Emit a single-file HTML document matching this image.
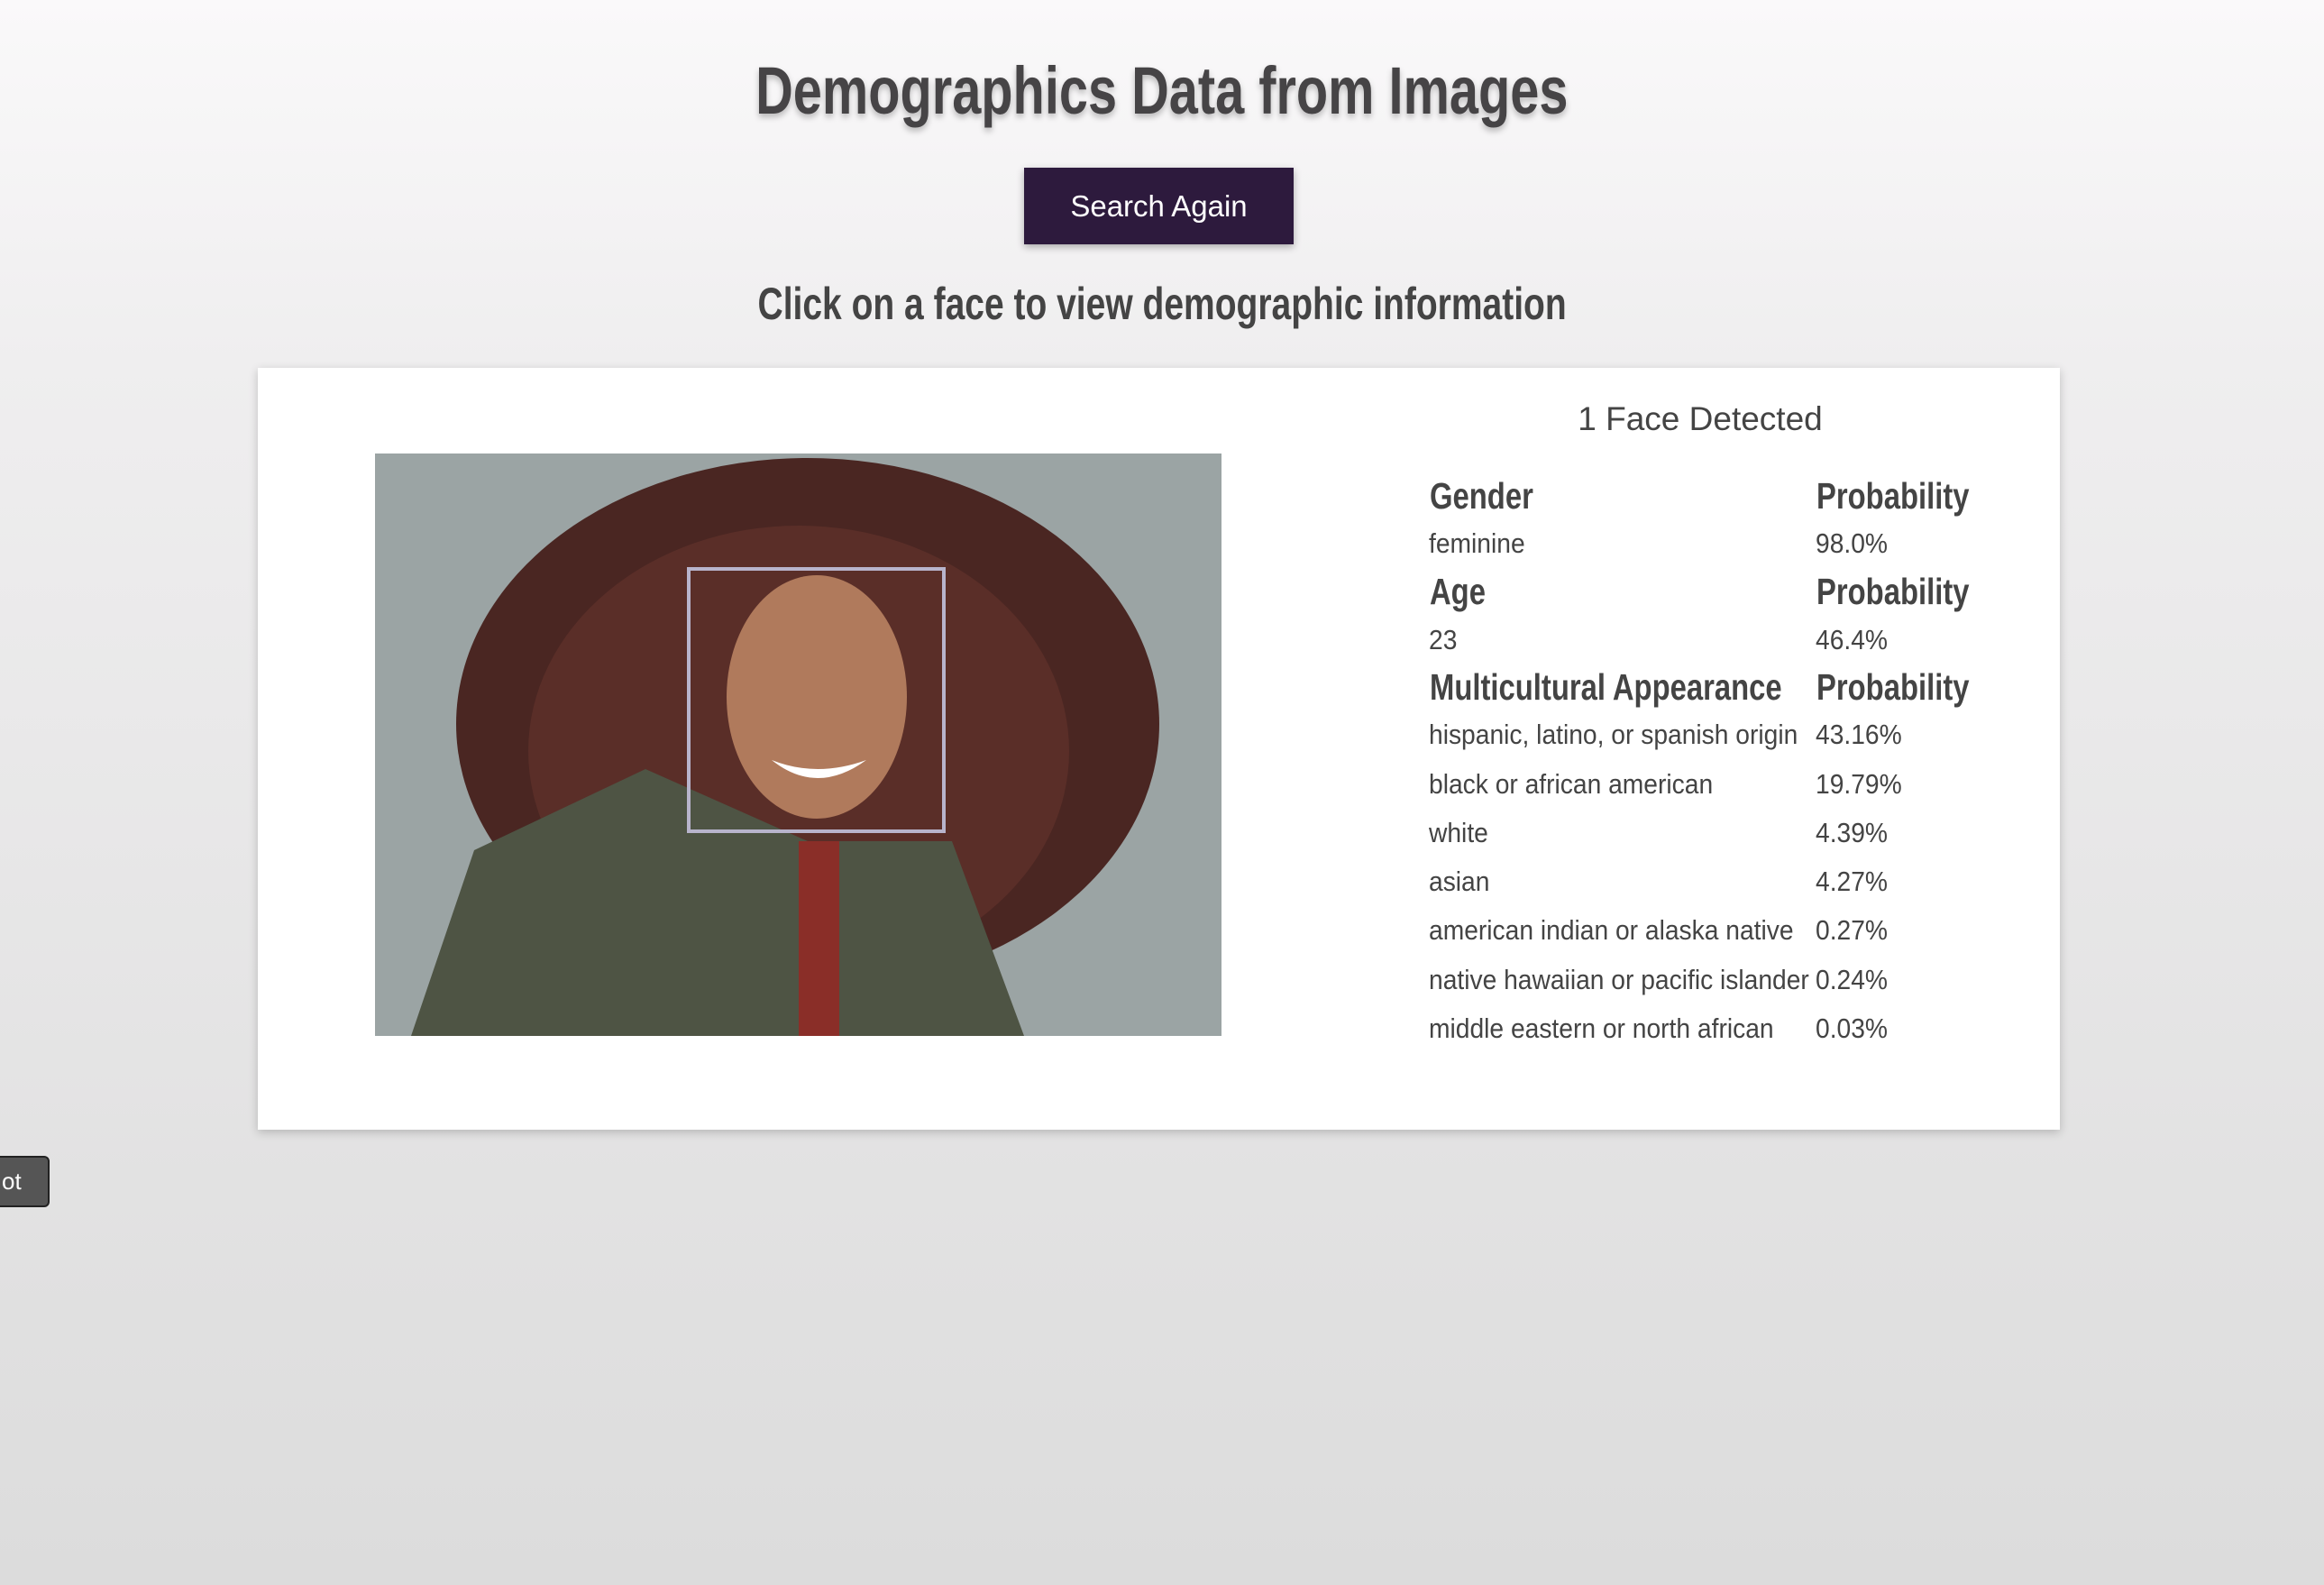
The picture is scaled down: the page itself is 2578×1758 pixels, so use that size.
<!DOCTYPE html>
<html><head><meta charset="utf-8"><style>
html,body{margin:0;padding:0}
body{width:2578px;height:1758px;position:relative;overflow:hidden;background:linear-gradient(#faf9fa,#efeeef 400px,#dcdcdc 1758px);font-family:"Liberation Sans",sans-serif;color:#444}
.abs{position:absolute}
h1{position:absolute;left:0;width:2578px;top:58px;margin:0;text-align:center;font-size:74px;font-weight:bold;color:#464446;text-shadow:0 4px 8px rgba(0,0,0,.25)}
h1 span,h2 span{display:inline-block;transform:scaleX(0.78);transform-origin:center}
#btn{left:1136px;top:186px;width:299px;height:85px;background:#2d1a3d;color:#fff;font-size:33px;line-height:85px;text-align:center;box-shadow:0 3px 8px rgba(0,0,0,.3)}
h2{position:absolute;left:0;width:2578px;top:308px;margin:0;text-align:center;font-size:50px;font-weight:bold;color:#444}
#card{left:286px;top:408px;width:1999px;height:845px;background:#fff;box-shadow:0 3px 10px rgba(0,0,0,.2)}
#photo{left:416px;top:503px;width:939px;height:646px;overflow:hidden;background:#98a1a1}
.t{position:absolute;white-space:nowrap;transform-origin:left top}
.hd{font-size:41px;font-weight:bold;color:#444;transform:scaleX(0.8)}
.rw{font-size:31px;color:#444;transform:scaleX(0.91)}
#ot{left:-20px;top:1282px;width:71px;height:53px;background:#555;border:2px solid #222;border-radius:6px;color:#fff;font-size:26px;line-height:53px;text-indent:20px}
</style></head><body>
<h1><span>Demographics Data from Images</span></h1>
<div id="btn" class="abs">Search Again</div>
<h2><span>Click on a face to view demographic information</span></h2>
<div id="card" class="abs"></div>
<div id="photo" class="abs">
<svg width="939" height="646" viewBox="0 0 939 646">
<rect width="939" height="646" fill="#9ba4a4"/>
<ellipse cx="480" cy="300" rx="390" ry="295" fill="#4a2622"/>
<ellipse cx="470" cy="330" rx="300" ry="250" fill="#5a2e28"/>
<path d="M40 646 L110 440 L300 350 L480 430 L640 430 L720 646 Z" fill="#4e5444"/>
<rect x="470" y="430" width="45" height="216" fill="#8a2e28"/>
<ellipse cx="490" cy="270" rx="100" ry="135" fill="#b07a5c"/>
<path d="M440 340 Q490 380 545 340 Q490 360 440 340Z" fill="#fff"/>
</svg>
<div class="abs" style="left:346px;top:126px;width:279px;height:287px;border:4px solid #b8b4cc"></div>
</div>
<div class="t" style="left:1686px;top:444px;width:400px;text-align:center;font-size:37px;color:#444">1 Face Detected</div>
<div>
<div class="t hd" style="left:1586px;top:527px">Gender</div><div class="t hd" style="left:2015px;top:527px">Probability</div>
<div class="t rw" style="left:1585px;top:585px">feminine</div><div class="t rw" style="left:2014px;top:585px">98.0%</div>
<div class="t hd" style="left:1586px;top:633px">Age</div><div class="t hd" style="left:2015px;top:633px">Probability</div>
<div class="t rw" style="left:1585px;top:692px">23</div><div class="t rw" style="left:2014px;top:692px">46.4%</div>
<div class="t hd" style="left:1586px;top:739px">Multicultural Appearance</div><div class="t hd" style="left:2015px;top:739px">Probability</div>
<div class="t rw" style="left:1585px;top:797px">hispanic, latino, or spanish origin</div><div class="t rw" style="left:2014px;top:797px">43.16%</div>
<div class="t rw" style="left:1585px;top:852px">black or african american</div><div class="t rw" style="left:2014px;top:852px">19.79%</div>
<div class="t rw" style="left:1585px;top:906px">white</div><div class="t rw" style="left:2014px;top:906px">4.39%</div>
<div class="t rw" style="left:1585px;top:960px">asian</div><div class="t rw" style="left:2014px;top:960px">4.27%</div>
<div class="t rw" style="left:1585px;top:1014px">american indian or alaska native</div><div class="t rw" style="left:2014px;top:1014px">0.27%</div>
<div class="t rw" style="left:1585px;top:1069px">native hawaiian or pacific islander</div><div class="t rw" style="left:2014px;top:1069px">0.24%</div>
<div class="t rw" style="left:1585px;top:1123px">middle eastern or north african</div><div class="t rw" style="left:2014px;top:1123px">0.03%</div>
</div>
<div id="ot" class="abs">ot</div>
</body></html>
